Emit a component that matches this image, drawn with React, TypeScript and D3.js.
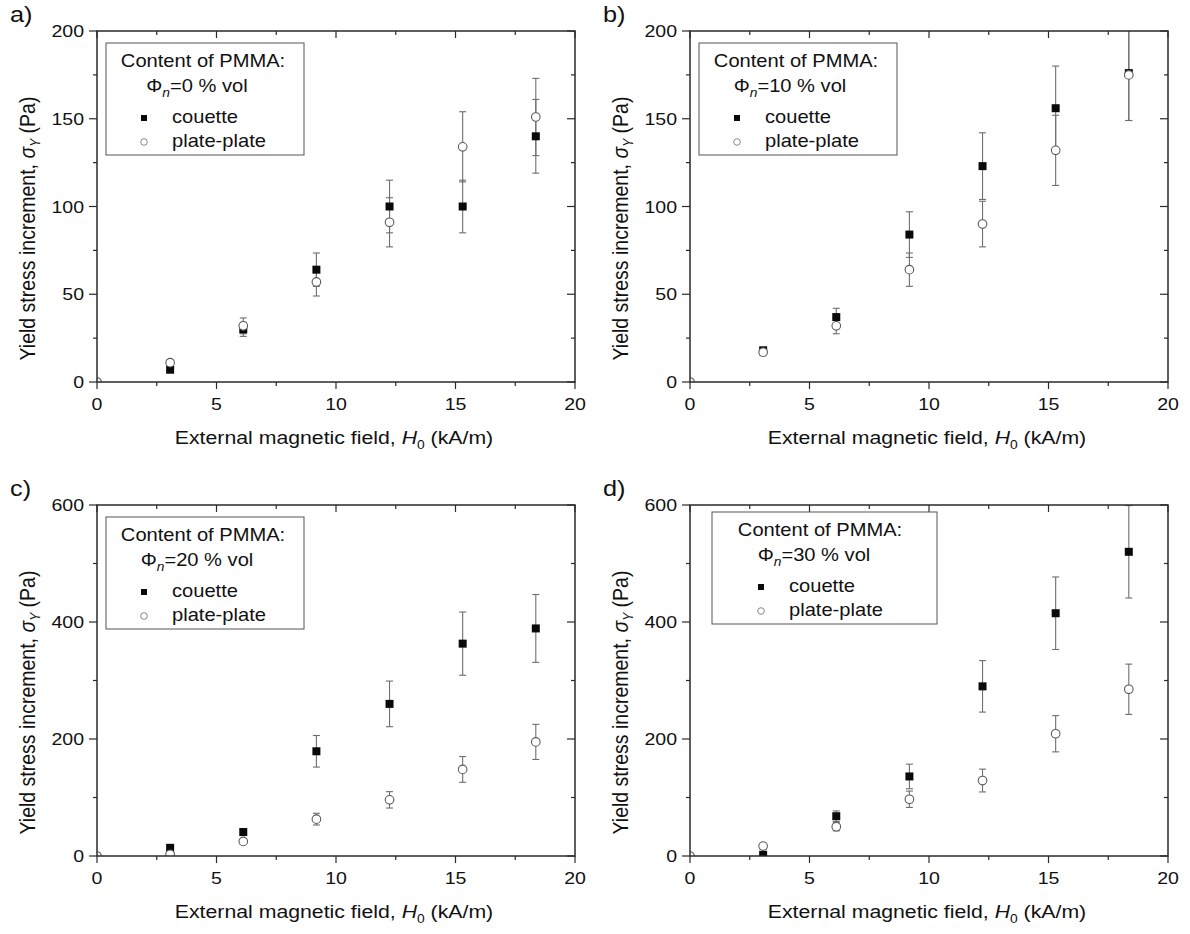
import React from 'react'
import * as d3 from 'd3'

// measured field values (kA/m)
const fieldH = [3.06, 6.12, 9.18, 12.24, 15.3, 18.36]
const fieldHPlate = [0, 3.06, 6.12, 9.18, 12.24, 15.3, 18.36]

// panel a: 0 % vol
const couette0 = [7, 30, 64, 100, 100, 140]
const couette0Err = [1.5, 4, 9.5, 15, 15, 21]
const plate0 = [0, 11, 32, 57, 91, 134, 151]
const plate0Err = [0, 1.5, 4.5, 8, 14, 20, 22]

// panel b: 10 % vol
const couette10 = [18, 37, 84, 123, 156, 176]
const couette10Err = [2, 5, 13, 19, 24, 27]
const plate10 = [0, 17, 32, 64, 90, 132, 175]
const plate10Err = [0, 2, 4.5, 9.5, 13, 20, 26]

// panel c: 20 % vol
const couette20 = [14, 41, 179, 260, 363, 389]
const couette20Err = [3, 3, 27, 39, 54, 58]
const plate20 = [0, 3, 25, 63, 96, 148, 195]
const plate20Err = [0, 3, 3, 10, 14, 22, 30]

// panel d: 30 % vol
const couette30 = [2, 68, 136, 290, 415, 520]
const couette30Err = [3, 9, 21, 44, 62, 79]
const plate30 = [0, 17, 50, 97, 129, 209, 285]
const plate30Err = [0, 5, 7, 14, 19.5, 31, 43]

const panelLetters = ['a)', 'b)', 'c)', 'd)']
const pmmaContent = ['0', '10', '20', '30']
const yMaxes = [200, 200, 600, 600]
const yMajorStep = [50, 50, 200, 200]
const yMinorStep = [25, 25, 100, 100]
const xMax = 20
const xMajorStep = 5
const xMinorStep = 2.5

const couetteSets = [couette0, couette10, couette20, couette30]
const couetteErrSets = [couette0Err, couette10Err, couette20Err, couette30Err]
const plateSets = [plate0, plate10, plate20, plate30]
const plateErrSets = [plate0Err, plate10Err, plate20Err, plate30Err]

const FONT = '"Liberation Sans", Arial, sans-serif'
const SX = 1.15 // the figure is stretched sideways
const INK = '#111'
const AXIS = '#2a2a2a'
const BAR = '#6e6e6e'

const W = 478
const H = 351
const lefts = [97, 690]
const tops = [31, 505]

function T({ x, y, size, anchor = 'start', rotate = false, children }: any) {
  const tr = `translate(${x},${y}) scale(${SX},1)` + (rotate ? ' rotate(-90)' : '')
  return (
    <text transform={tr} fontSize={size} fontFamily={FONT} fill={INK} textAnchor={anchor}>
      {children}
    </text>
  )
}

function ErrorBars({ xs, ys, es, x, y }: any) {
  return (
    <g stroke={BAR} strokeWidth={1.1}>
      {xs.map((xv: number, k: number) => {
        const e = es[k]
        if (!e) return null
        const cx = x(xv)
        const y1 = y(ys[k] - e)
        const y2 = y(ys[k] + e)
        return (
          <g key={k}>
            <line x1={cx} x2={cx} y1={y1} y2={y2} />
            <line x1={cx - 3.5} x2={cx + 3.5} y1={y1} y2={y1} />
            <line x1={cx - 3.5} x2={cx + 3.5} y1={y2} y2={y2} />
          </g>
        )
      })}
    </g>
  )
}

function Panel({ i }: { i: number }) {
  const left = lefts[i % 2]
  const top = tops[Math.floor(i / 2)]
  const x = d3.scaleLinear().domain([0, xMax]).range([0, W])
  const y = d3.scaleLinear().domain([0, yMaxes[i]]).range([H, 0])
  const xt = d3.range(0, xMax + 0.001, xMinorStep)
  const yt = d3.range(0, yMaxes[i] + 0.001, yMinorStep[i])
  const isMajX = (v: number) => Math.abs(v % xMajorStep) < 1e-6
  const isMajY = (v: number) => Math.abs(v % yMajorStep[i]) < 1e-6
  const cy = couetteSets[i]
  const cyE = couetteErrSets[i]
  const py = plateSets[i]
  const pyE = plateErrSets[i]

  // legend placement, panel d has a wider box
  const wide = i === 3
  const lg = wide ? { x: 22, y: 7, w: 225, h: 112, dx: 24 } : { x: 9, y: 12, w: 198, h: 112, dx: 0 }
  const ly = lg.y - 12

  return (
    <g>
      <T x={left - 87} y={top - 9} size={22}>{panelLetters[i]}</T>
      <g transform={`translate(${left},${top})`}>
        <defs>
          <clipPath id={`clip${i}`}>
            <rect x={0} y={0} width={W} height={H} />
          </clipPath>
        </defs>

        {/* data */}
        <g clipPath={`url(#clip${i})`}>
          <ErrorBars xs={fieldH} ys={cy} es={cyE} x={x} y={y} />
          <ErrorBars xs={fieldHPlate} ys={py} es={pyE} x={x} y={y} />
          {fieldH.map((xv, k) => (
            <rect key={'c' + k} x={x(xv) - 4} y={y(cy[k]) - 4} width={8} height={8} fill="#0a0a0a" />
          ))}
          {fieldHPlate.map((xv, k) => (
            <circle key={'p' + k} cx={x(xv)} cy={y(py[k])} r={4.3} fill="#fff" stroke="#5a5a5a" strokeWidth={1.1} />
          ))}
        </g>

        {/* frame */}
        <rect x={0} y={0} width={W} height={H} fill="none" stroke={AXIS} strokeWidth={1.5} />

        {/* ticks: bottom/left outward, top/right inward */}
        <g stroke={AXIS} strokeWidth={1.2}>
          {xt.map((v) => {
            const len = isMajX(v) ? 7 : 4
            return (
              <g key={v}>
                <line x1={x(v)} x2={x(v)} y1={H} y2={H + len} />
                <line x1={x(v)} x2={x(v)} y1={0} y2={len} />
              </g>
            )
          })}
          {yt.map((v) => {
            const len = isMajY(v) ? 8 : 4
            return (
              <g key={v}>
                <line x1={0} x2={-len} y1={y(v)} y2={y(v)} />
                <line x1={W} x2={W - len} y1={y(v)} y2={y(v)} />
              </g>
            )
          })}
        </g>

        {xt.filter(isMajX).map((v) => (
          <T key={v} x={x(v)} y={H + 28} size={17} anchor="middle">{v}</T>
        ))}
        {yt.filter(isMajY).map((v) => (
          <T key={v} x={-13} y={y(v) + 6} size={17} anchor="end">{v}</T>
        ))}

        {/* axis titles */}
        <T x={W / 2 - 2} y={H + 62} size={18.5} anchor="middle">
          External magnetic field, <tspan fontStyle="italic">H</tspan>
          <tspan dy={5} fontSize={12}>0</tspan>
          <tspan dy={-5}> (kA/m)</tspan>
        </T>
        <T x={-62} y={H / 2 + 22} size={19.5} anchor="middle" rotate>
          Yield stress increment, <tspan fontStyle="italic">σ</tspan>
          <tspan dy={4} fontSize={12} fontStyle="italic">Y</tspan>
          <tspan dy={-4}> (Pa)</tspan>
        </T>

        {/* legend */}
        <rect x={lg.x} y={lg.y} width={lg.w} height={lg.h} fill="#fff" stroke="#555" strokeWidth={1} />
        <T x={106 + lg.dx} y={ly + 36} size={17.5} anchor="middle">Content of PMMA:</T>
        <T x={100 + lg.dx} y={ly + 61} size={17.5} anchor="middle">
          Φ<tspan dy={5} fontSize={12} fontStyle="italic">n</tspan>
          <tspan dy={-5}>={pmmaContent[i]} % vol</tspan>
        </T>
        <rect x={47 + lg.dx - 3} y={ly + 87 - 3} width={6} height={6} fill="#0a0a0a" />
        <T x={75 + lg.dx} y={ly + 92} size={17.5}>couette</T>
        <circle cx={47 + lg.dx} cy={ly + 111} r={3.3} fill="#fff" stroke="#888" strokeWidth={1} />
        <T x={75 + lg.dx} y={ly + 116} size={17.5}>plate-plate</T>
      </g>
    </g>
  )
}

export default function App() {
  return (
    <div style={{ position: 'absolute', left: 0, top: 0 }}>
      <svg width={1190} height={934} style={{ display: 'block', background: '#fff' }}>
        {[0, 1, 2, 3].map((i) => (
          <Panel key={i} i={i} />
        ))}
      </svg>
    </div>
  )
}
